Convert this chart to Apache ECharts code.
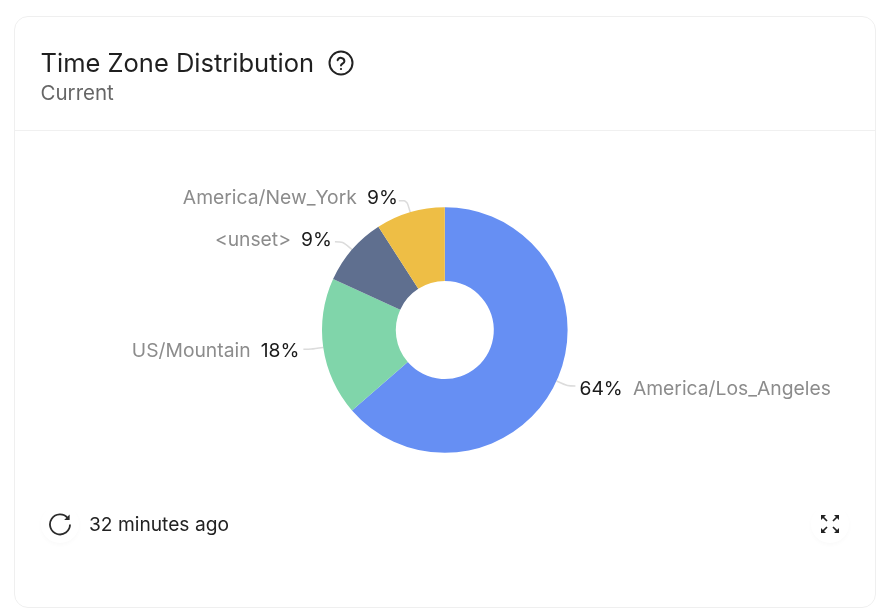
<!DOCTYPE html>
<html>
<head>
<meta charset="utf-8">
<script src="https://cdn.jsdelivr.net/npm/echarts@6/dist/echarts.min.js"></script>
<style>
html, body { margin: 0; padding: 0; background: #fff; }
body { width: 888px; height: 616px; overflow: hidden; font-family: Inter, sans-serif; position: relative; }
#card { position: absolute; left: 14px; top: 16px; width: 860px; height: 590px; border: 1px solid #efefef; border-radius: 14px; }
#rule { position: absolute; left: 15px; top: 130px; width: 860px; height: 1px; background: #f0f0f0; }
#title { position: absolute; left: 40.5px; top: 47px; font-size: 25.5px; line-height: 32px; color: #1f1f1f; white-space: nowrap; }
#sub { position: absolute; left: 40.5px; top: 80px; font-size: 20.5px; line-height: 26px; color: #666; white-space: nowrap; }
#updated { position: absolute; left: 89px; top: 512px; font-size: 19.2px; line-height: 25px; color: #222; white-space: nowrap; }
#chart { position: absolute; left: 0; top: 0; width: 888px; height: 616px; }
.btn { position: absolute; width: 38px; height: 38px; border-radius: 50%; box-shadow: 0 2px 4px rgba(0,0,0,.025); }
svg { position: absolute; }
</style>
</head>
<body>
<div id="chart"></div>
<div id="card"></div>
<div id="rule"></div>
<div id="title">Time Zone Distribution</div>
<div id="sub">Current</div>
<svg style="left:328px;top:50px" width="26" height="26" viewBox="0 0 26 26" fill="none" stroke="#222" stroke-width="2">
	<circle cx="13" cy="13" r="11.5"/>
	<path d="M9.6 10.2a3.5 3.5 0 0 1 6.8 1c0 2.3-3.4 2.6-3.4 4.4" stroke-linecap="round"/>
	<circle cx="13" cy="19" r="0.7" fill="#222" stroke-width="1"/>
</svg>
<div class="btn" style="left:41px;top:505px"></div>
<svg style="left:47px;top:511px" width="26" height="26" viewBox="0 0 26 26" fill="none" stroke="#2a2a2a" stroke-width="1.8">
	<path d="M20.8 7.2a10 10 0 1 0 2.2 6.3"/>
	<path d="M22.6 3.6v5.4h-5.4z" fill="#2a2a2a" stroke="none"/>
</svg>
<div id="updated">32 minutes ago</div>
<div class="btn" style="left:811px;top:505px"></div>
<svg style="left:820px;top:514px" width="20" height="20" viewBox="0 0 20 20" fill="#222" stroke="#222">
	<path d="M2 2l5 5M18 2l-5 5M2 18l5-5M18 18l-5-5" stroke-width="1.7"/>
	<path d="M1 1h5L1 6zM19 1h-5L19 6zM1 19h5L1 14zM19 19h-5L19 14z" stroke="none"/>
</svg>
<script>
var zoneNames = ['America/Los_Angeles', 'US/Mountain', '<unset>', 'America/New_York'];
var zoneCounts = [7, 2, 1, 1];
var zoneColors = ['#668ff3', '#80d5aa', '#5f6f8f', '#eebe45'];
var labelNudges = [[-1, 3], [1, 2], [2, -2], [4, -2.4]];

var chart = echarts.init(document.getElementById('chart'));

var option = {
	animation: false,
	series: [{
		type: 'pie',
		center: [444.8, 330],
		radius: [49, 122.8],
		startAngle: 90,
		percentPrecision: 0,
		data: zoneNames.map(function(name, i) {
			return {
				name: name,
				value: zoneCounts[i],
				itemStyle: { color: zoneColors[i] },
				label: {
					formatter: i === 0 ? '{pct|{d}%}   {name|{b}}' : '{name|{b}}   {pct|{d}%}'
				}
			};
		}),
		label: {
			fontFamily: 'Inter',
			rich: {
				name: { color: '#8c8c8c', fontSize: 19.3, fontFamily: 'Inter' },
				pct: { color: '#1a1a1a', fontSize: 19.3, fontFamily: 'Inter' }
			}
		},
		labelLine: {
			length: 12,
			length2: 8,
			smooth: true,
			lineStyle: { color: '#dcdcdc', width: 1.5 }
		},
		labelLayout: function(params) {
			var nudge = labelNudges[params.dataIndex];
			return { dx: nudge[0], dy: nudge[1] };
		}
	}]
};

chart.setOption(option);
</script>
</body>
</html>
